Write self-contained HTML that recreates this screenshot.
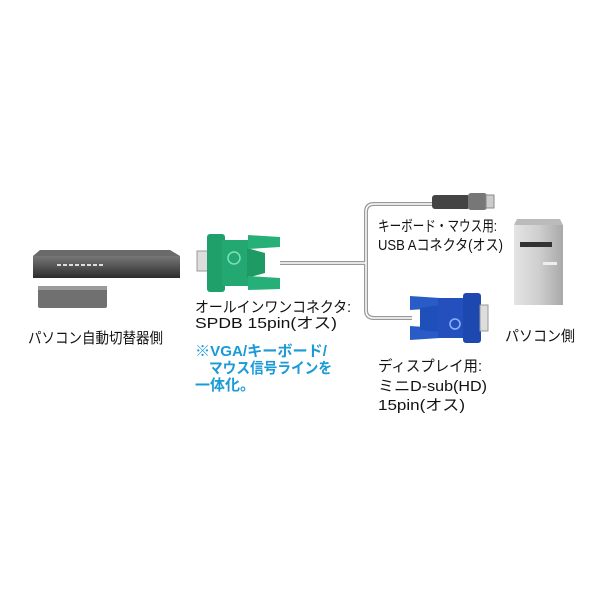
<!DOCTYPE html>
<html><head><meta charset="utf-8"><style>
html,body{margin:0;padding:0;background:#fff;width:600px;height:600px;overflow:hidden}
svg{display:block}
text{font-family:"Liberation Sans","Noto Sans CJK JP",sans-serif;font-size:15px;fill:#111}
.b{fill:#1a9ad6;font-weight:bold}
</style></head><body>
<svg width="600" height="600" viewBox="0 0 600 600">
<defs>
<linearGradient id="tw" x1="0" x2="1"><stop offset="0" stop-color="#e4e4e4"/><stop offset="0.5" stop-color="#cfcfcf"/><stop offset="1" stop-color="#a9a9a9"/></linearGradient>
<linearGradient id="sw" x1="0" y1="0" x2="0" y2="1"><stop offset="0" stop-color="#777"/><stop offset="1" stop-color="#2c2c2c"/></linearGradient>
</defs>
<!-- KVM switch -->
<polygon points="40,250 170,250 180,256 33,256" fill="#6a6a6a"/>
<rect x="33" y="256" width="147" height="22" fill="url(#sw)"/>
<g fill="#ddd"><rect x="57" y="264" width="4" height="2"/><rect x="63" y="264" width="4" height="2"/><rect x="69" y="264" width="4" height="2"/><rect x="75" y="264" width="4" height="2"/><rect x="81" y="264" width="4" height="2"/><rect x="87" y="264" width="4" height="2"/><rect x="93" y="264" width="4" height="2"/><rect x="99" y="264" width="4" height="2"/></g>
<rect x="38" y="286" width="69" height="22" rx="2" fill="#707070"/>
<rect x="38" y="286" width="69" height="4" fill="#9a9a9a"/>
<text x="28" y="343" textLength="135" lengthAdjust="spacingAndGlyphs">パソコン自動切替器側</text>
<!-- cable -->
<path d="M280,263 H366 M366,263 V212 Q366,204 374,204 H434 M366,263 V310 Q366,318 374,318 H412" stroke="#999" stroke-width="4" fill="none"/>
<path d="M280,263 H366 M366,263 V212 Q366,204 374,204 H434 M366,263 V310 Q366,318 374,318 H412" stroke="#fff" stroke-width="1.5" fill="none"/>
<!-- green connector -->
<rect x="197" y="251" width="12" height="20" fill="#ddd" stroke="#999"/>
<rect x="207" y="234" width="18" height="58" rx="3" fill="#1fa06a"/>
<rect x="222" y="240" width="26" height="46" fill="#22a870"/>
<circle cx="234" cy="258" r="6" fill="none" stroke="#7fe0b8" stroke-width="1.5"/>
<polygon points="247,248 265,253 265,273 247,278" fill="#1e9a65"/>
<path d="M248,235 L280,237 L280,247 L248,249 Z" fill="#26b077"/>
<path d="M248,276 L280,278 L280,289 L248,290 Z" fill="#26b077"/>
<text x="195" y="312" textLength="156" lengthAdjust="spacingAndGlyphs">オールインワンコネクタ:</text>
<text x="195" y="328" textLength="142" lengthAdjust="spacingAndGlyphs">SPDB 15pin(オス)</text>
<text class="b" x="195" y="356" textLength="132" lengthAdjust="spacingAndGlyphs">※VGA/キーボード/</text>
<text class="b" x="209" y="373" textLength="123" lengthAdjust="spacingAndGlyphs">マウス信号ラインを</text>
<text class="b" x="195" y="390" textLength="60" lengthAdjust="spacingAndGlyphs">一体化。</text>
<!-- USB -->
<rect x="432" y="195" width="38" height="14" rx="3" fill="#444"/>
<rect x="468" y="193" width="19" height="17" rx="3" fill="#777"/>
<rect x="486" y="195" width="8" height="13" fill="#ccc" stroke="#888"/>
<text x="378" y="231" textLength="119" lengthAdjust="spacingAndGlyphs">キーボード・マウス用:</text>
<text x="378" y="250" textLength="125" lengthAdjust="spacingAndGlyphs">USB Aコネクタ(オス)</text>
<!-- blue connector -->
<path d="M410,296 L440,298 L440,308 L410,310 Z" fill="#2a5cc8"/>
<path d="M410,326 L440,328 L440,338 L410,340 Z" fill="#2a5cc8"/>
<polygon points="420,308 440,305 440,332 420,330" fill="#1f4fb8"/>
<rect x="438" y="298" width="30" height="40" fill="#2450be"/>
<rect x="463" y="293" width="18" height="50" rx="3" fill="#1d48b0"/>
<circle cx="455" cy="324" r="5" fill="none" stroke="#8fb0ff" stroke-width="1.5"/>
<rect x="480" y="305" width="8" height="26" fill="#ddd" stroke="#999"/>
<text x="378" y="371" textLength="104" lengthAdjust="spacingAndGlyphs">ディスプレイ用:</text>
<text x="378" y="391" textLength="109" lengthAdjust="spacingAndGlyphs">ミニD-sub(HD)</text>
<text x="378" y="410" textLength="87" lengthAdjust="spacingAndGlyphs">15pin(オス)</text>
<!-- PC tower -->
<polygon points="517,219 560,219 563,225 514,225" fill="#bbb"/>
<rect x="514" y="225" width="49" height="80" fill="url(#tw)"/>
<rect x="520" y="242" width="32" height="5" fill="#333"/>
<rect x="543" y="262" width="14" height="3" fill="#eee"/>
<text x="505" y="341" textLength="70" lengthAdjust="spacingAndGlyphs">パソコン側</text>
</svg>
</body></html>
